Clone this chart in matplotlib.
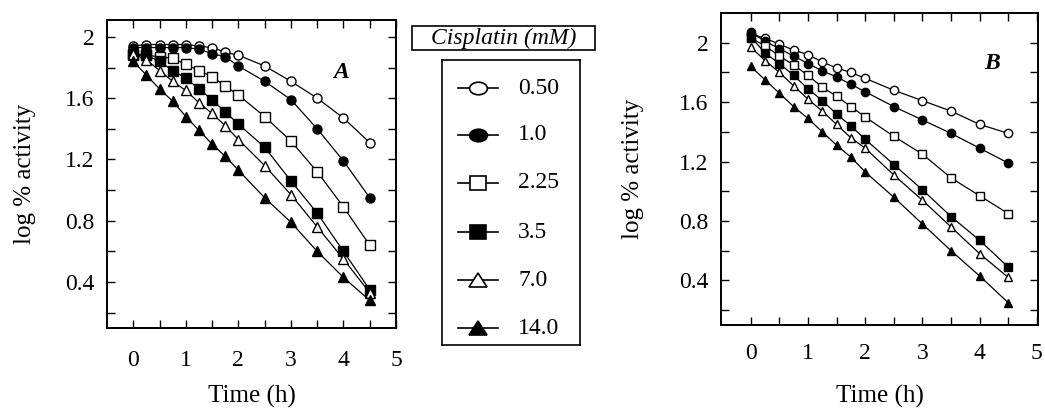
import matplotlib
matplotlib.use("Agg")
import matplotlib.pyplot as plt
from matplotlib.patches import Rectangle
from matplotlib.ticker import FixedLocator
from matplotlib.markers import MarkerStyle
from matplotlib.transforms import Affine2D

plt.rcParams['font.family'] = ['Liberation Serif', 'DejaVu Serif']

# ---- data ----
times = [0, 0.25, 0.5, 0.75, 1.0, 1.25, 1.5, 1.75, 2.0, 2.5, 3.0, 3.5, 4.0, 4.5]
conc_labels = ["0.50", "1.0", "2.25", "3.5", "7.0", "14.0"]

a_050 = [1.94, 1.95, 1.95, 1.95, 1.95, 1.94, 1.93, 1.90, 1.88, 1.81, 1.71, 1.60, 1.47, 1.31]
a_100 = [1.93, 1.93, 1.93, 1.93, 1.93, 1.92, 1.89, 1.87, 1.81, 1.71, 1.59, 1.40, 1.19, 0.95]
a_225 = [1.89, 1.88, 1.87, 1.86, 1.82, 1.78, 1.74, 1.68, 1.62, 1.48, 1.32, 1.12, 0.89, 0.64]
a_350 = [1.88, 1.88, 1.84, 1.78, 1.73, 1.66, 1.59, 1.51, 1.43, 1.28, 1.06, 0.85, 0.60, 0.35]
a_700 = [1.89, 1.85, 1.78, 1.71, 1.65, 1.57, 1.50, 1.42, 1.33, 1.16, 0.97, 0.76, 0.55, 0.33]
a_140 = [1.84, 1.75, 1.66, 1.58, 1.48, 1.39, 1.30, 1.22, 1.13, 0.95, 0.79, 0.60, 0.43, 0.28]

b_050 = [2.06, 2.03, 1.99, 1.95, 1.92, 1.87, 1.83, 1.80, 1.76, 1.68, 1.61, 1.54, 1.45, 1.39]
b_100 = [2.07, 2.01, 1.96, 1.91, 1.86, 1.81, 1.77, 1.72, 1.67, 1.57, 1.48, 1.39, 1.29, 1.19]
b_225 = [2.03, 1.98, 1.91, 1.85, 1.78, 1.70, 1.64, 1.57, 1.50, 1.37, 1.25, 1.09, 0.97, 0.85]
b_350 = [2.04, 1.93, 1.86, 1.78, 1.69, 1.61, 1.52, 1.44, 1.35, 1.18, 1.01, 0.83, 0.67, 0.49]
b_700 = [1.97, 1.88, 1.80, 1.71, 1.62, 1.54, 1.45, 1.36, 1.29, 1.11, 0.94, 0.76, 0.58, 0.42]
b_140 = [1.84, 1.75, 1.66, 1.57, 1.49, 1.40, 1.31, 1.23, 1.13, 0.96, 0.78, 0.60, 0.43, 0.25]

series_a = [a_050, a_100, a_225, a_350, a_700, a_140]
series_b = [b_050, b_100, b_225, b_350, b_700, b_140]
markers = ['o', 'o', 's', 's', '^', '^']
fills = ['white', 'black', 'white', 'black', 'white', 'black']

W, H = 1045, 412
fig = plt.figure(figsize=(W / 100, H / 100), dpi=100)
fig.patch.set_facecolor('white')

FS_TICK = 17
FS_LAB = 18


def px_axes(l, t, r, b):
    return [l / W, 1 - b / H, (r - l) / W, (b - t) / H]


def style(ax, xlim, ylim, xpad, ylab_x, xlab_y):
    ax.set_xlim(*xlim)
    ax.set_ylim(*ylim)
    ax.xaxis.set_major_locator(FixedLocator([0, 1, 2, 3, 4, 5]))
    ax.xaxis.set_minor_locator(FixedLocator([0.5, 1.5, 2.5, 3.5, 4.5]))
    ax.yaxis.set_major_locator(FixedLocator([0.4, 0.8, 1.2, 1.6, 2.0]))
    ax.yaxis.set_minor_locator(FixedLocator([0.2, 0.6, 1.0, 1.4, 1.8]))
    ax.set_yticklabels(['0.4', '0.8', '1.2', '1.6', '2'])
    ax.tick_params(which='both', direction='in', top=True, right=True,
                   length=6, width=1.0, labelsize=FS_TICK)
    ax.tick_params(axis='x', pad=xpad)
    ax.tick_params(axis='y', pad=9)
    for s in ax.spines.values():
        s.set_linewidth(1.4)
    ax.set_xlabel('Time (h)', fontsize=FS_LAB)
    ax.set_ylabel('log % activity', fontsize=FS_LAB)
    ax.xaxis.label.set_va('center')
    ax.yaxis.label.set_va('center')
    ax.yaxis.set_label_coords(ylab_x, 0.5)
    ax.xaxis.set_label_coords(0.5, xlab_y)


# Panel A
axA = fig.add_axes(px_axes(107, 20, 396, 328))
for ys, m, fc in zip(series_a, markers, fills):
    axA.plot(times, ys, color='black', lw=0.9, marker=m, ms=6.5,
             mfc=fc, mec='black', mew=1.0, clip_on=False)
style(axA, (-0.5, 5.0), (0.1, 2.11), 16, -0.285, -0.221)
axA.text(3.95, 1.77, 'A', fontsize=17, fontweight='bold', fontstyle='italic',
         ha='center', va='center')

# Panel B
axB = fig.add_axes(px_axes(721, 13, 1038, 325))
for ys, m, fc in zip(series_b, markers, fills):
    axB.plot(times, ys, color='black', lw=0.9, marker=m, ms=6,
             mfc=fc, mec='black', mew=1.0, clip_on=False)
style(axB, (-0.52, 5.02), (0.1, 2.2), 13, -0.278, -0.228)
axB.text(4.21, 1.86, 'B', fontsize=17, fontweight='bold', fontstyle='italic',
         ha='center', va='center')

# Legend
axL = fig.add_axes(px_axes(442, 60, 580, 345))
axL.set_xlim(442, 580)
axL.set_ylim(345, 60)
axL.set_xticks([])
axL.set_yticks([])
for s in axL.spines.values():
    s.set_linewidth(1.2)
leg_y = [88, 135, 183, 232, 280, 328]
leg_scale = {'o': (1.35, 0.95), 's': (1.1, 1.0), '^': (1.35, 1.0)}
leg_ms = {'o': 9.5, 's': 10, '^': 9.5}
for yy, m, fc, lab in zip(leg_y, markers, fills, conc_labels):
    axL.plot([458, 498], [yy, yy], color='black', lw=1.2)
    sx, sy = leg_scale[m]
    mk = MarkerStyle(m, transform=Affine2D().scale(sx, sy))
    axL.plot([478], [yy], marker=mk, ms=leg_ms[m], mfc=fc, mec='black', mew=1.2,
             color='black', linestyle='none')
    axL.text(518, yy, lab, fontsize=FS_TICK, ha='left', va='center')

fig.patches.append(Rectangle((412 / W, 1 - 50 / H), (595 - 412) / W, 24 / H,
                             transform=fig.transFigure, fill=False,
                             edgecolor='black', lw=1.2))
fig.text(504 / W, 1 - 38 / H, 'Cisplatin (mM)', fontsize=17, fontstyle='italic',
         ha='center', va='center')

fig.savefig('out.png', dpi=100, facecolor='white')
